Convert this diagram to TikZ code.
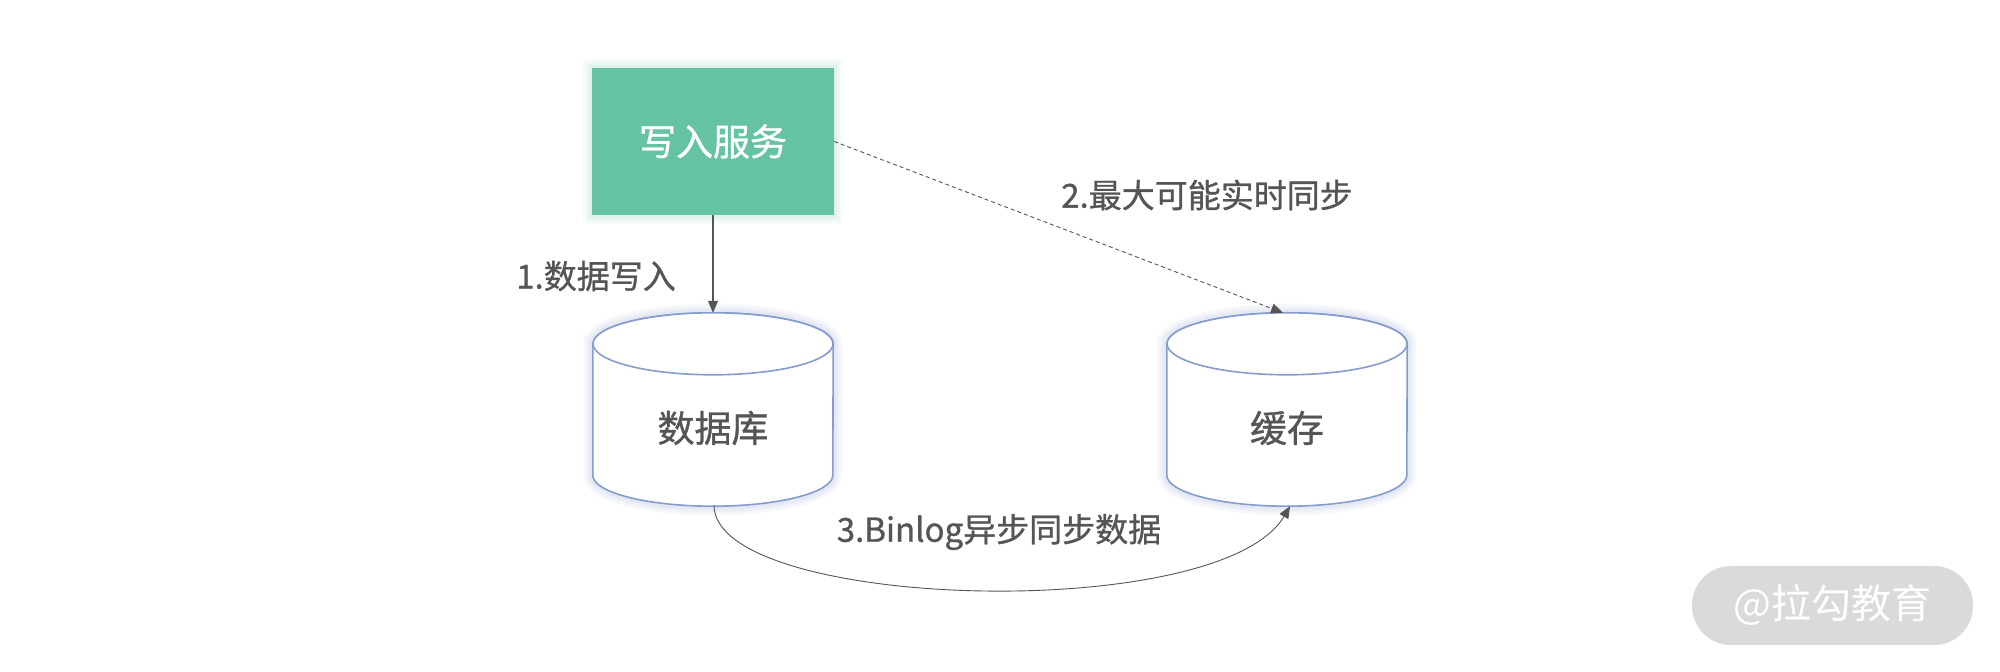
\documentclass[tikz,border=0pt]{standalone}
\usepackage{fontspec}
\setmainfont{Noto Sans CJK SC}[AutoFakeBold=0.9]
\usetikzlibrary{arrows.meta,calc}
\definecolor{boxgreen}{HTML}{65C3A4}
\definecolor{cylblue}{HTML}{859CCF}
\definecolor{txtgray}{HTML}{555555}
\definecolor{wmgray}{HTML}{DADADA}
\tikzset{
  lbl/.style={text=txtgray, font=\fontsize{33}{38}\selectfont\bfseries, inner sep=0pt},
  cyltext/.style={text=txtgray, font=\fontsize{37}{42}\selectfont\bfseries, inner sep=0pt},
  cylbody/.style={draw=none, fill=none, minimum width=240pt, minimum height=193pt, inner sep=0pt},
  cylline/.style={draw=cylblue, line width=1.6pt, fill=white},
  cylglow/.style={draw=cylblue, opacity=0.08, line width=#1},
  conn/.style={draw=txtgray, line width=1.1pt, -{Triangle[length=12pt,width=10pt]}},
  servicebox/.style={fill=boxgreen, minimum width=242pt, minimum height=147pt, inner sep=0pt,
    text=white, font=\fontsize{37}{42}\selectfont\bfseries},
}
\newcommand{\mycyl}[1]{%
  \foreach \w in {18pt,12pt,7pt}{
    \draw[cylglow=\w] ([yshift=-31pt]#1.north west) -- ([yshift=31pt]#1.south west)
      arc[start angle=180, end angle=360, x radius=120pt, y radius=31pt]
      -- ([yshift=-31pt]#1.north east)
      arc[start angle=0, end angle=180, x radius=120pt, y radius=31pt] -- cycle;
  }
  \draw[cylline] ([yshift=-31pt]#1.north west) -- ([yshift=31pt]#1.south west)
    arc[start angle=180, end angle=360, x radius=120pt, y radius=31pt]
    -- ([yshift=-31pt]#1.north east)
    arc[start angle=0, end angle=180, x radius=120pt, y radius=31pt] -- cycle;
  \draw[cylline] ([yshift=-31pt]#1.north) ellipse[x radius=120pt, y radius=31pt];
}
\begin{document}
\begin{tikzpicture}[x=1pt,y=1pt]
\useasboundingbox[fill=white] (0,0) rectangle (2000,672);

% service box with glow
\foreach \w/\o in {18pt/0.05,12pt/0.07,6pt/0.1}{
  \draw[draw=boxgreen, opacity=\o, line width=\w] (592,457) rectangle (834,604);
}
\node[servicebox] (svc) at (713,530.5) {写入服务};

% cylinders
\node[cylbody] (db) at (713,262.5) {};
\node[cylbody] (cache) at (1287,262.5) {};
\mycyl{db}
\mycyl{cache}
\node[cyltext] (dbl) at (713,244) {数据库};
\node[cyltext] (cachel) at (1287,244) {缓存};

% connectors
\draw[conn] (svc.south) -- (db.north);
\coordinate (cachein) at ($(cache.north)+(-4,0)$);
\draw[conn, line width=0.9pt, dash pattern=on 4pt off 3pt] (svc.east) -- (cachein);
\coordinate (dbout) at ($(db.south)+(1,1)$);
\coordinate (cachebot) at ($(cache.south)+(3,0)$);
\draw[conn, line width=0.9pt] (dbout) .. controls (714,62) and (1220,47) .. (cachebot);

% labels
\node[lbl] (l1) at (596,396) {1.数据写入};
\node[lbl] (l2) at (1207,477) {2.最大可能实时同步};
\node[lbl] (l3) at (999,140) {3.Binlog异步同步数据};

% watermark
\node[fill=wmgray, rounded corners=39pt, minimum width=281pt, minimum height=79pt, inner sep=0pt,
  text=white, font=\fontsize{40}{44}\selectfont] (wm) at (1832.5,66.5) {@拉勾教育};
\end{tikzpicture}
\end{document}
